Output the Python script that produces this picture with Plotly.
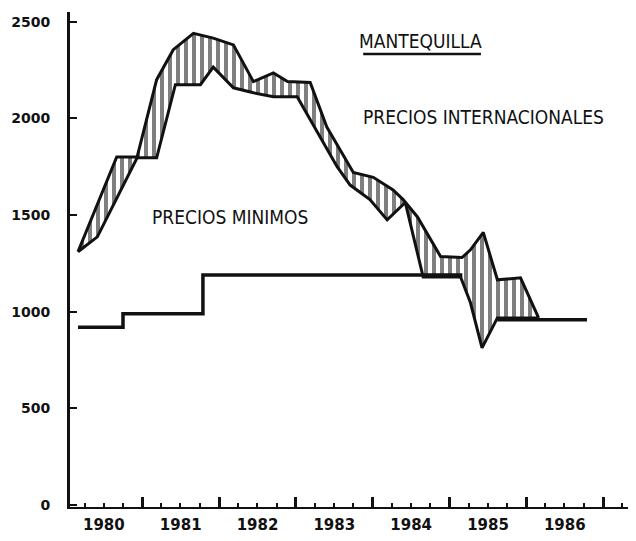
import plotly.graph_objects as go

# International price band: upper and lower boundary series (US$/t)
upper_dates = ["1980-03-01", "1980-09-01", "1980-12-07", "1981-03-10", "1981-05-28",
               "1981-09-01", "1981-12-04", "1982-03-10", "1982-06-13", "1982-09-16",
               "1982-11-22", "1983-03-10", "1983-05-28", "1983-10-01", "1984-01-04",
               "1984-04-07", "1984-05-25", "1984-08-01", "1984-11-19", "1985-03-01",
               "1985-04-10", "1985-06-10", "1985-08-16", "1985-12-04", "1986-02-28"]
upper_vals = [1310, 1800, 1800, 2200, 2355,
              2440, 2415, 2380, 2190, 2235,
              2190, 2185, 1955, 1720, 1695,
              1630, 1580, 1490, 1285, 1280,
              1320, 1410, 1165, 1175, 968]

lower_dates = ["1980-03-01", "1980-06-01", "1980-12-07", "1981-03-10", "1981-06-07",
               "1981-10-04", "1981-12-04", "1982-03-10", "1982-06-13", "1982-09-16",
               "1983-01-07", "1983-04-13", "1983-07-16", "1983-09-16", "1983-12-19",
               "1984-03-10", "1984-06-04", "1984-08-28", "1985-02-22", "1985-04-10",
               "1985-06-04", "1985-08-16", "1986-02-22"]
lower_vals = [1310, 1387, 1796, 1796, 2174,
              2174, 2265, 2158, 2132, 2112,
              2112, 1930, 1750, 1655, 1580,
              1475, 1565, 1180, 1180, 1046,
              813, 968, 968]

# Minimum (support) prices, step series; None marks the gap hidden by the band
min_dates = ["1980-03-01", "1980-10-01", "1981-10-16", "1985-02-22", None,
             "1985-08-16", "1986-10-16"]
min_vals = [920, 990, 1190, 1180, None, 958, 958]

y_ticks = [0, 500, 1000, 1500, 2000, 2500]
y_ticktext = ["0", "500", "1000", "1500", "2000", "2500"]

title_text = "MANTEQUILLA"
label_intl = "PRECIOS INTERNACIONALES"
label_min = "PRECIOS MINIMOS"

INK = "#111111"
fig = go.Figure()
fig.add_trace(go.Scatter(x=upper_dates, y=upper_vals, mode="lines",
                         line=dict(color=INK, width=3), showlegend=False,
                         hoverinfo="skip"))
fig.add_trace(go.Scatter(x=lower_dates, y=lower_vals, mode="lines",
                         line=dict(color=INK, width=3), fill="tonexty",
                         fillcolor="white",
                         fillpattern=dict(shape="|", fgcolor="black", bgcolor="white",
                                          size=8, solidity=0.5),
                         showlegend=False, hoverinfo="skip"))
fig.add_trace(go.Scatter(x=min_dates, y=min_vals, mode="lines",
                         line=dict(color=INK, width=3.5, shape="hv"),
                         connectgaps=False, showlegend=False, hoverinfo="skip"))

label_font = dict(family="Liberation Sans Narrow, DejaVu Sans Condensed, sans-serif",
                  size=19, color=INK)
for txt, ax, ay in [(title_text, 0.620, 0.941),
                    (label_intl, 0.730, 0.788),
                    (label_min, 0.283, 0.586)]:
    fig.add_annotation(text=txt, xref="paper", yref="paper", x=ax, y=ay,
                       xanchor="center", yanchor="middle",
                       showarrow=False, font=label_font)
fig.add_shape(type="line", xref="paper", yref="paper", x0=0.518, x1=0.726,
              y0=0.915, y1=0.915, line=dict(color=INK, width=2.5))

xtick_font = dict(family="DejaVu Sans, sans-serif", size=15, color=INK, weight="bold")
ytick_font = dict(family="DejaVu Sans, sans-serif", size=14, color=INK, weight="bold")
fig.update_layout(
    width=628, height=533,
    margin=dict(l=62, r=0, t=4, b=34),
    plot_bgcolor="white", paper_bgcolor="white",
    xaxis=dict(type="date", range=["1980-01-23", "1987-06-06"],
               showline=True, linewidth=2, linecolor=INK,
               ticks="inside", ticklen=10, tickwidth=2.5, tickcolor=INK,
               dtick="M12", tick0="1980-01-01", tickformat="%Y",
               ticklabelmode="period", ticklabelstandoff=3,
               showgrid=False, zeroline=False, tickfont=xtick_font,
               minor=dict(dtick="M3", ticks="inside", ticklen=4, tickwidth=1.5,
                          tickcolor=INK, showgrid=False)),
    yaxis=dict(range=[-10, 2550], showline=True, linewidth=3, linecolor=INK,
               ticks="inside", ticklen=7, tickwidth=1.5, tickcolor=INK,
               tickvals=y_ticks, ticktext=y_ticktext, ticklabelstandoff=14,
               showgrid=False, zeroline=False, tickfont=ytick_font),
)

fig.write_html("out.html")
